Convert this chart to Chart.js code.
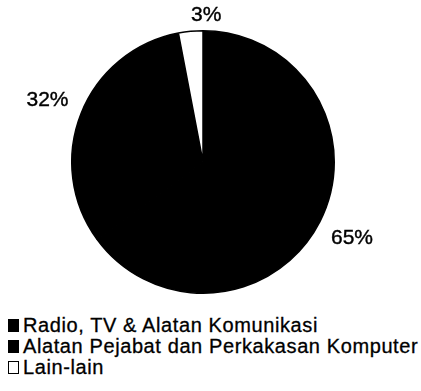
<!DOCTYPE html>
<html>
<head>
<meta charset="utf-8">
<script src="https://cdn.jsdelivr.net/npm/chart.js@4"></script>
<style>
  html, body { margin: 0; padding: 0; background: #fff; }
  #wrap { position: relative; width: 421px; height: 391px; overflow: hidden; }
  #pie { position: absolute; left: 0; top: 0; }
  #legend {
    position: absolute; left: 8px; top: 315px;
    font-family: "Liberation Sans", Arial, sans-serif;
    font-size: 20px; color: #000; letter-spacing: 0.6px;
    -webkit-text-stroke: 0.3px #000;
  }
  #legend div { height: 21px; line-height: 21px; white-space: nowrap; display: flex; align-items: center; }
  #legend span.box {
    display: inline-block; width: 11px; height: 13px; margin-right: 4px;
    border: 1px solid #000; box-sizing: border-box;
  }
</style>
</head>
<body>
<div id="wrap">
  <canvas id="pie" width="421" height="310"></canvas>
  <div id="legend"></div>
</div>
<script>
// ── Data ──
const categories = ['Radio, TV & Alatan Komunikasi', 'Alatan Pejabat dan Perkakasan Komputer', 'Lain-lain'];
const shares = [65, 32, 3];
const sliceColors = ['#000000', '#000000', '#ffffff'];

// Percent labels outside the pie, placed on each slice's mid angle
const outsideLabels = {
  id: 'outsideLabels',
  afterDatasetsDraw(chart, args, opts) {
    const ctx = chart.ctx;
    const meta = chart.getDatasetMeta(0);
    ctx.save();
    ctx.font = '21px "Liberation Sans", Arial, sans-serif';
    ctx.fillStyle = '#000';
    ctx.strokeStyle = '#000';
    ctx.lineWidth = 0.4;
    ctx.textAlign = 'center';
    ctx.textBaseline = 'middle';
    meta.data.forEach((arc, i) => {
      const mid = (arc.startAngle + arc.endAngle) / 2;
      const r = arc.outerRadius + opts.gaps[i];
      const x = arc.x + Math.cos(mid) * r + opts.nudge[i];
      const y = arc.y + Math.sin(mid) * r;
      const txt = shares[i] + '%';
      ctx.fillText(txt, x, y);
      ctx.strokeText(txt, x, y);
    });
    ctx.restore();
  }
};

const ctx = document.getElementById('pie').getContext('2d');
new Chart(ctx, {
  type: 'pie',
  data: {
    labels: categories,
    datasets: [{
      data: shares,
      backgroundColor: sliceColors,
      borderColor: '#000',
      borderWidth: 1.5
    }]
  },
  options: {
    responsive: false,
    animation: false,
    layout: { padding: { left: 71, right: 86, top: 30, bottom: 16 } },
    plugins: {
      legend: { display: false },
      tooltip: { enabled: false },
      outsideLabels: { gaps: [36, 36, 16], nudge: [0, 0, 17] }
    }
  },
  plugins: [outsideLabels]
});

// HTML legend, one item per line
const legend = document.getElementById('legend');
categories.forEach((name, i) => {
  const row = document.createElement('div');
  const box = document.createElement('span');
  box.className = 'box';
  box.style.background = sliceColors[i];
  row.appendChild(box);
  row.appendChild(document.createTextNode(name));
  legend.appendChild(row);
});
</script>
</body>
</html>
